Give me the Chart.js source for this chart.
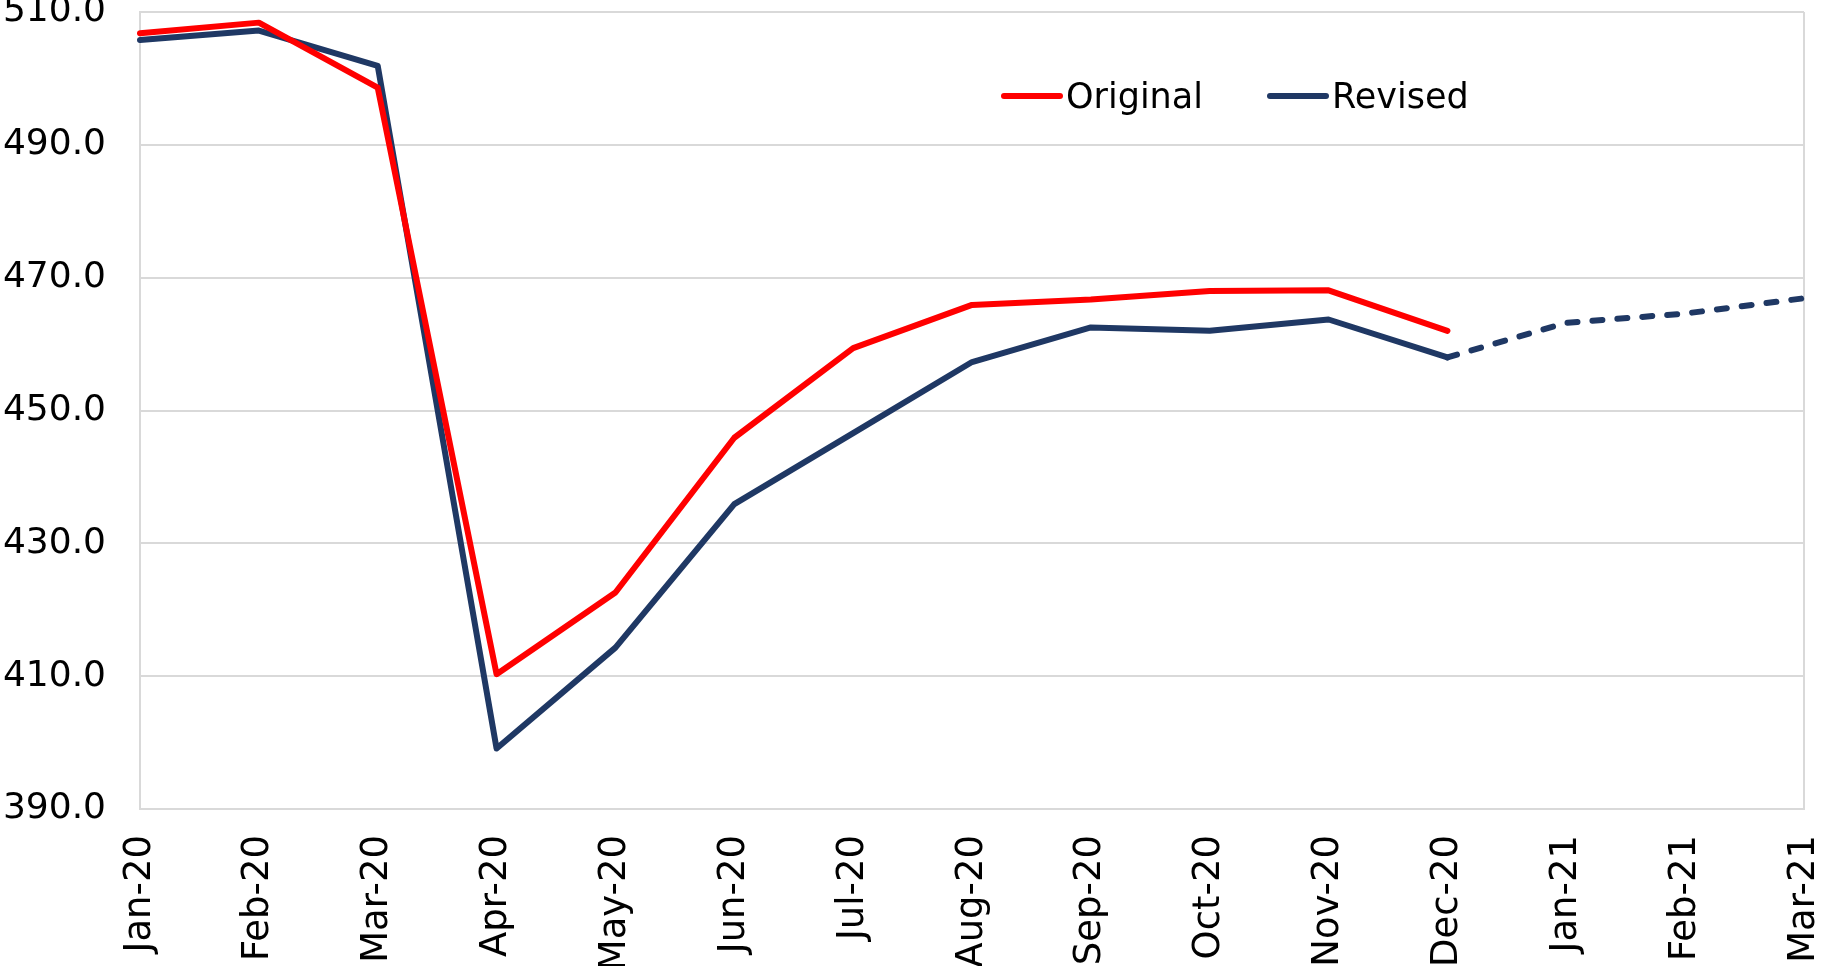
<!DOCTYPE html>
<html>
<head>
<meta charset="utf-8">
<script src="https://cdn.jsdelivr.net/npm/chart.js@4"></script>
<style>
  body { margin: 0; background: #fff; }
  #wrap { position: relative; width: 1825px; height: 966px; }
  #legend { position: absolute; left: 1001px; top: 76px; display: flex; align-items: center;
            font-family: 'DejaVu Sans', Verdana, sans-serif; font-size: 35px; color: #000; }
  #legend .item { display: flex; align-items: center; margin-right: 64px; }
  #legend .swatch { width: 62px; height: 6px; border-radius: 3px; margin-right: 3px; }
</style>
</head>
<body>
<div id="wrap">
  <canvas id="lineChart" width="1825" height="966"></canvas>
  <div id="legend"></div>
</div>
<script>
let months = ['Jan-20','Feb-20','Mar-20','Apr-20','May-20','Jun-20','Jul-20','Aug-20','Sep-20','Oct-20','Nov-20','Dec-20','Jan-21','Feb-21','Mar-21']
let original = [506.8, 508.4, 498.6, 410.3, 422.6, 445.9, 459.4, 465.9, 466.7, 468.0, 468.1, 462.0]
let revised = [505.8, 507.2, 501.9, 399.1, 414.3, 435.9, 446.6, 457.3, 462.5, 462.0, 463.7, 458.0, 463.2, 464.6, 466.9]
let forecastFrom = 11   // Dec-20 on, revised line is dashed
let yMin = 390, yMax = 510, yStep = 20

let gridColor = '#d9d9d9'
let fontFamily = "'DejaVu Sans', Verdana, sans-serif"

let ctx = document.getElementById('lineChart').getContext('2d')
let chart = new Chart(ctx, {
  type: 'line',
  data: {
    labels: months,
    datasets: [
      {
        label: 'Original',
        data: original,
        borderColor: '#ff0000',
        backgroundColor: '#ff0000',
        borderWidth: 6,
        pointRadius: 0,
        borderCapStyle: 'round',
        borderJoinStyle: 'round'
      },
      {
        label: 'Revised',
        data: revised,
        borderColor: '#1f3864',
        backgroundColor: '#1f3864',
        borderWidth: 6,
        pointRadius: 0,
        borderCapStyle: 'round',
        borderJoinStyle: 'round',
        segment: {
          borderDash: c => c.p0DataIndex >= forecastFrom ? [10, 15] : undefined
        }
      }
    ]
  },
  options: {
    responsive: false,
    animation: false,
    layout: { padding: { top: 12, right: 21, left: 0, bottom: 0 } },
    plugins: {
      legend: { display: false },
      tooltip: { enabled: false }
    },
    scales: {
      x: {
        offset: false,
        grid: {
          drawTicks: false,
          lineWidth: 2,
          color: c => (c.index === 0 || c.index === months.length - 1) ? gridColor : 'rgba(0,0,0,0)'
        },
        border: { color: gridColor, width: 2 },
        ticks: {
          color: '#000',
          font: { family: fontFamily, size: 37 },
          autoSkip: false,
          minRotation: 90,
          maxRotation: 90,
          padding: 26
        },
        afterFit: s => { s.height = 157; s.paddingLeft = 0; s.paddingRight = 0 }
      },
      y: {
        min: yMin,
        max: yMax,
        grid: { drawTicks: false, color: gridColor, lineWidth: 2 },
        border: { color: gridColor, width: 2 },
        ticks: {
          stepSize: yStep,
          color: '#000',
          font: { family: fontFamily, size: 36 },
          padding: 34,
          callback: v => v.toFixed(1)
        },
        afterFit: s => { s.width = 140; s.paddingTop = 0; s.paddingBottom = 0 }
      }
    }
  }
})

// legend built from the datasets
let legend = document.getElementById('legend')
chart.data.datasets.forEach(ds => {
  let item = document.createElement('div')
  item.className = 'item'
  let sw = document.createElement('span')
  sw.className = 'swatch'
  sw.style.background = ds.borderColor
  let txt = document.createElement('span')
  txt.textContent = ds.label
  item.appendChild(sw)
  item.appendChild(txt)
  legend.appendChild(item)
})
</script>
</body>
</html>
